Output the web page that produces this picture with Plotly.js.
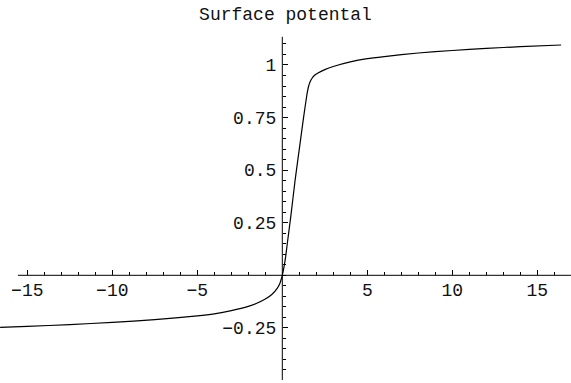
<!DOCTYPE html>
<html>
<head>
<meta charset="utf-8">
<script src="https://cdn.plot.ly/plotly-3.0.1.min.js"></script>
<style>
  html, body { margin: 0; padding: 0; background: #fff; }
  #chart { width: 571px; height: 383px; }
</style>
</head>
<body>
<div id="chart"></div>
<script>
// Surface potential versus gate bias (normalised units)
const biasNeg = [-16.6, -15, -12.5, -10, -7.5, -5, -4, -3, -2, -1.5, -1, -0.6, -0.3, -0.15, -0.05, 0];
const potNeg  = [-0.248, -0.243, -0.234, -0.224, -0.211, -0.193, -0.183, -0.168, -0.148, -0.133, -0.113, -0.09, -0.062, -0.04, -0.015, 0];

const biasPos = [0.1, 0.2, 0.3, 0.5, 0.75, 1.0, 1.25, 1.45, 1.55, 1.65, 1.75, 1.9, 2.1, 2.5, 3, 4, 5, 6, 8, 10, 12, 14, 16.4];
const potPos  = [0.04, 0.09, 0.155, 0.28, 0.45, 0.6, 0.75, 0.86, 0.9, 0.923, 0.937, 0.951, 0.962, 0.978, 0.993, 1.015, 1.03, 1.04, 1.057, 1.069, 1.079, 1.087, 1.095];

const xTickVals = [-15, -10, -5, 5, 10, 15];
const xTickText = ['−15', '−10', '−5', '5', '10', '15'];
const yTickVals = [-0.25, 0.25, 0.5, 0.75, 1];
const yTickText = ['−0.25', '0.25', '0.5', '0.75', '1'];

const xRange = [-16.606, 16.982];
const yRange = [-0.512, 1.309];
const xAxisSpan = [-15.55, 16.98];
const yAxisSpan = [-0.498, 1.134];

const bias = biasNeg.concat(biasPos);
const pot = potNeg.concat(potPos);

// minor tick positions inside the drawn axis spans
const xMinor = [];
for (let v = Math.ceil(xAxisSpan[0]); v <= Math.floor(xAxisSpan[1]); v++) xMinor.push(v);
const yMinor = [];
for (let k = Math.ceil(yAxisSpan[0] / 0.05); k <= Math.floor(yAxisSpan[1] / 0.05); k++) yMinor.push(+(k * 0.05).toFixed(2));

const font = { family: 'Liberation Mono, Courier New, monospace', size: 18, color: '#111' };

const trace = {
  x: bias, y: pot, type: 'scatter', mode: 'lines',
  line: { color: '#000', width: 1.2, shape: 'spline', smoothing: 0.5 },
  hoverinfo: 'skip'
};

const layout = {
  width: 571, height: 383,
  margin: { l: 0, r: 0, t: 0, b: 0 },
  paper_bgcolor: '#fff', plot_bgcolor: '#fff',
  showlegend: false,
  title: { text: 'Surface potental', font: font, x: 0.5, xanchor: 'center', y: 1 - 14 / 383, yanchor: 'middle' },
  xaxis: {
    range: xRange, anchor: 'free',
    position: (0 - yRange[0]) / (yRange[1] - yRange[0]),
    showgrid: false, zeroline: false, showline: false,
    tickmode: 'array', tickvals: xTickVals, ticktext: xTickText,
    ticks: 'inside', ticklen: 5, tickwidth: 1, tickcolor: '#000',
    minor: { tickmode: 'array', tickvals: xMinor, ticks: 'inside', ticklen: 3, tickwidth: 1, tickcolor: '#000', showgrid: false },
    tickfont: font, side: 'bottom', ticklabelstandoff: 2, fixedrange: true
  },
  yaxis: {
    range: yRange, anchor: 'free',
    position: (0 - xRange[0]) / (xRange[1] - xRange[0]),
    showgrid: false, zeroline: false, showline: false,
    tickmode: 'array', tickvals: yTickVals, ticktext: yTickText,
    ticks: 'inside', ticklen: 5, tickwidth: 1, tickcolor: '#000',
    minor: { tickmode: 'array', tickvals: yMinor, ticks: 'inside', ticklen: 3, tickwidth: 1, tickcolor: '#000', showgrid: false },
    tickfont: font, side: 'left', ticklabelstandoff: 6, fixedrange: true
  },
  shapes: [
    { type: 'line', xref: 'x', yref: 'y', x0: xAxisSpan[0], x1: xAxisSpan[1], y0: 0, y1: 0, line: { color: '#000', width: 1 } },
    { type: 'line', xref: 'x', yref: 'y', x0: 0, x1: 0, y0: yAxisSpan[0], y1: yAxisSpan[1], line: { color: '#000', width: 1 } }
  ]
};

Plotly.newPlot('chart', [trace], layout, { staticPlot: true, displayModeBar: false });
</script>
</body>
</html>
